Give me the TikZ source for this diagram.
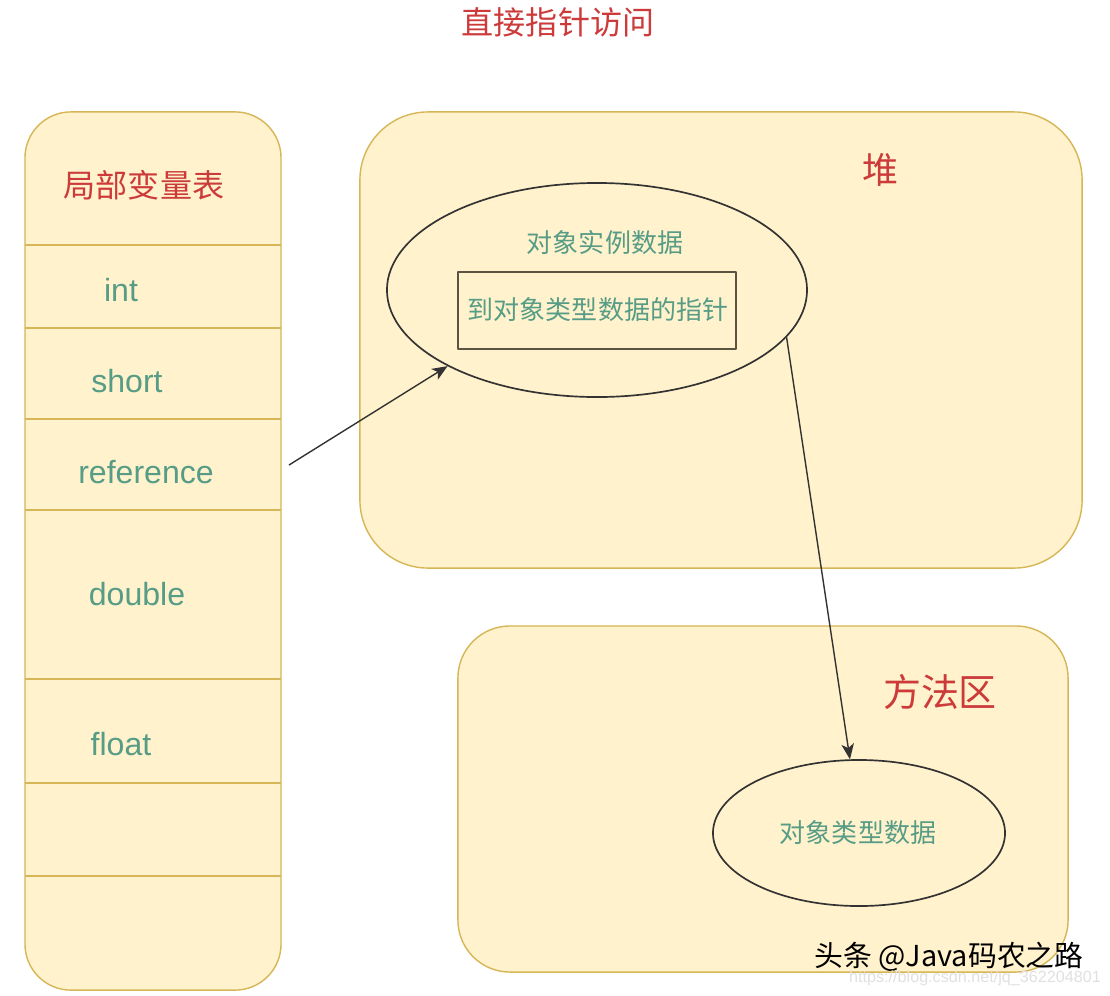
\documentclass[tikz,border=0pt]{standalone}
\usepackage{fontspec}
\setmainfont{Liberation Sans}
\newfontfamily\cjk{Noto Sans CJK SC}
\usetikzlibrary{shapes.geometric,arrows.meta}
\definecolor{panelfill}{HTML}{FFF2CC}
\definecolor{paneldraw}{HTML}{D6B656}
\definecolor{titlered}{HTML}{CC3A3A}
\definecolor{slotgreen}{HTML}{569C86}
\definecolor{inkgray}{HTML}{333333}
\definecolor{boxline}{HTML}{5A5440}
\begin{document}
\begin{tikzpicture}[x=0.025cm, y=-0.025cm, line join=round,
  panel/.style={rectangle,draw=paneldraw,fill=panelfill,line width=1pt,inner sep=0pt},
  red label/.style={text=titlered,font=\cjk\fontsize{22.8}{27}\selectfont,inner sep=0pt},
  slot/.style={text=slotgreen,font=\fontsize{22.8}{27}\selectfont,inner sep=0pt},
  green label/.style={text=slotgreen,font=\cjk\fontsize{18.5}{22}\selectfont,inner sep=0pt},
  blob/.style={ellipse,draw=inkgray,line width=1.2pt,inner sep=0pt},
  pointer/.style={draw=inkgray,line width=1pt,-{Stealth[length=11pt,width=9pt,inset=3pt]}}]
\useasboundingbox (0,0) rectangle (1110,995);
% panels
\begin{scope}
\node[panel,rounded corners=1.15cm,minimum width=6.4cm,minimum height=21.95cm] (locals) at (153,551) {};
\node[panel,rounded corners=1.7cm,minimum width=18.05cm,minimum height=11.4cm] (heap) at (721,340) {};
\node[panel,rounded corners=1.3cm,minimum width=15.25cm,minimum height=8.65cm] (method) at (763,799) {};
\end{scope}
% rows of the local variable table
\foreach \y in {245,328,419,510,679,783,876}
  \draw[paneldraw,line width=1pt] (25,\y) -- (281,\y);
\node[red label] (ttl) at (558,22) {直接指针访问};
\node[red label] (tbl) at (144,185) {局部变量表};
\node[slot] (int) at (121,290) {int};
\node[slot] (short) at (127,381) {short};
\node[slot] (ref) at (146,472) {reference};
\node[slot] (dbl) at (137,594) {double};
\node[slot] (flt) at (121,744) {float};
\node[red label,font=\cjk\fontsize{25.6}{30}\selectfont] (heapname) at (880,170) {堆};
\node[red label,font=\cjk\fontsize{27}{32}\selectfont] (methodname) at (940,692) {方法区};
% objects
\node[blob,minimum width=10.5cm,minimum height=5.35cm] (obj) at (597,290) {};
\node[green label] (objname) at (605,243) {对象实例数据};
\node[draw=boxline,line width=1.2pt,minimum width=6.95cm,minimum height=1.925cm,inner sep=0pt] (ptr) at (597,310.5) {};
\node[green label] (ptrname) at (598,310) {到对象类型数据的指针};
\node[blob,minimum width=7.3cm,minimum height=3.65cm] (type) at (859,833) {};
\node[green label] (typename) at (858,833) {对象类型数据};
\coordinate (refout) at (289,465);
\begin{scope}
\draw[pointer] (refout) -- (obj.207);
\draw[pointer] (obj.-14.6) -- (type.97);
\end{scope}
% watermark
\node[inner sep=0pt,font=\cjk\fontsize{20.5}{24}\selectfont] (mark) at (949,957) {头条 @Java码农之路};
\node[inner sep=0pt,text=black!12,font=\fontsize{11.5}{14}\selectfont] (url) at (975,978) {https://blog.csdn.net/jq\_362204801};
\end{tikzpicture}
\end{document}
